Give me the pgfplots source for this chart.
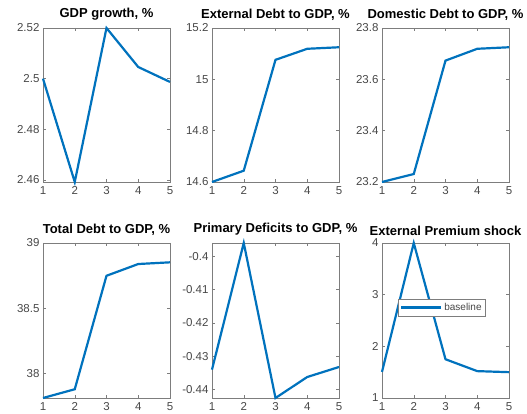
\documentclass[border=0pt]{standalone}
\usepackage{fontspec}
\setmainfont{Liberation Sans}
\usepackage{pgfplots}
\pgfplotsset{compat=1.18}
\definecolor{mblue}{rgb}{0,0.447,0.741}
\definecolor{mgray}{rgb}{0.15,0.15,0.15}
\pgfplotsset{
  mstyle/.style={
    scale only axis, width=127pt, height=154pt, anchor=south west,
    xmin=1, xmax=5, xtick={1,2,3,4,5},
    tick align=inside, tick pos=both, major tick length=3pt,
    axis line style={draw=mgray!60, line width=0.5pt},
    every tick/.style={draw=mgray!60, line width=0.5pt},
    tick label style={font=\fontsize{11.5}{13}\selectfont, text=mgray!85},
    yticklabel style={inner ysep=0pt},
    /pgf/number format/assume math mode=true,
    scaled y ticks=false,
    title style={font=\bfseries\fontsize{13}{15}\selectfont, yshift=1.5pt, inner xsep=0pt, inner ysep=0pt},
    every axis plot post/.style={draw=mblue, line width=2.2pt, mark=none},
    xticklabel style={yshift=-1pt},
    clip=false,
  }
}
\begin{document}
\begin{tikzpicture}
\path[use as bounding box] (0,0) rectangle (527pt,414pt);
\begin{axis}[mstyle, at={(43pt,232pt)}, title={GDP growth, \%}, ymin=2.4592, ymax=2.52, ytick={2.46,2.48,2.5,2.52}, yticklabels={2.46,2.48,2.5,2.52}]
\addplot coordinates {(1,2.50) (2,2.4592) (3,2.52) (4,2.5046) (5,2.4987)};
\end{axis}
\begin{axis}[mstyle, at={(212pt,232pt)}, title={External Debt to GDP, \%}, ymin=14.6, ymax=15.2, ytick={14.6,14.8,15,15.2}, yticklabels={14.6,14.8,15,15.2}]
\addplot coordinates {(1,14.6) (2,14.644) (3,15.076) (4,15.119) (5,15.125)};
\end{axis}
\begin{axis}[mstyle, at={(382pt,232pt)}, title={Domestic Debt to GDP, \%}, ymin=23.2, ymax=23.8, ytick={23.2,23.4,23.6,23.8}, yticklabels={23.2,23.4,23.6,23.8}]
\addplot coordinates {(1,23.2) (2,23.231) (3,23.673) (4,23.719) (5,23.725)};
\end{axis}
\begin{axis}[mstyle, height=155pt, at={(43pt,16pt)}, title={Total Debt to GDP, \%}, ymin=37.813, ymax=39, ytick={38,38.5,39}, yticklabels={38,38.5,39}]
\addplot coordinates {(1,37.813) (2,37.88) (3,38.749) (4,38.839) (5,38.852)};
\end{axis}
\begin{axis}[mstyle, height=155pt, at={(212pt,16pt)}, title={Primary Deficits to GDP, \%}, ymin=-0.4425, ymax=-0.396, ytick={-0.44,-0.43,-0.42,-0.41,-0.4}, yticklabels={-0.44,-0.43,-0.42,-0.41,-0.4}]
\addplot coordinates {(1,-0.434) (2,-0.396) (3,-0.4425) (4,-0.4362) (5,-0.4332)};
\end{axis}
\begin{axis}[mstyle, height=155pt, at={(382pt,16pt)}, title={External Premium shock}, ymin=1, ymax=4, ytick={1,2,3,4}, yticklabels={1,2,3,4},
  legend style={at={(0.125,0.639)}, anchor=north west, draw=mgray!60, line width=0.5pt, font=\fontsize{10}{12}\selectfont, inner sep=2pt, text=mgray!85},
  legend cell align=left,
  legend image code/.code={\draw[#1] (0pt,0pt) -- (40pt,0pt);}]
\addplot coordinates {(1,1.505) (2,4) (3,1.75) (4,1.52) (5,1.50)};
\addlegendentry{baseline}
\end{axis}
\end{tikzpicture}
\end{document}
